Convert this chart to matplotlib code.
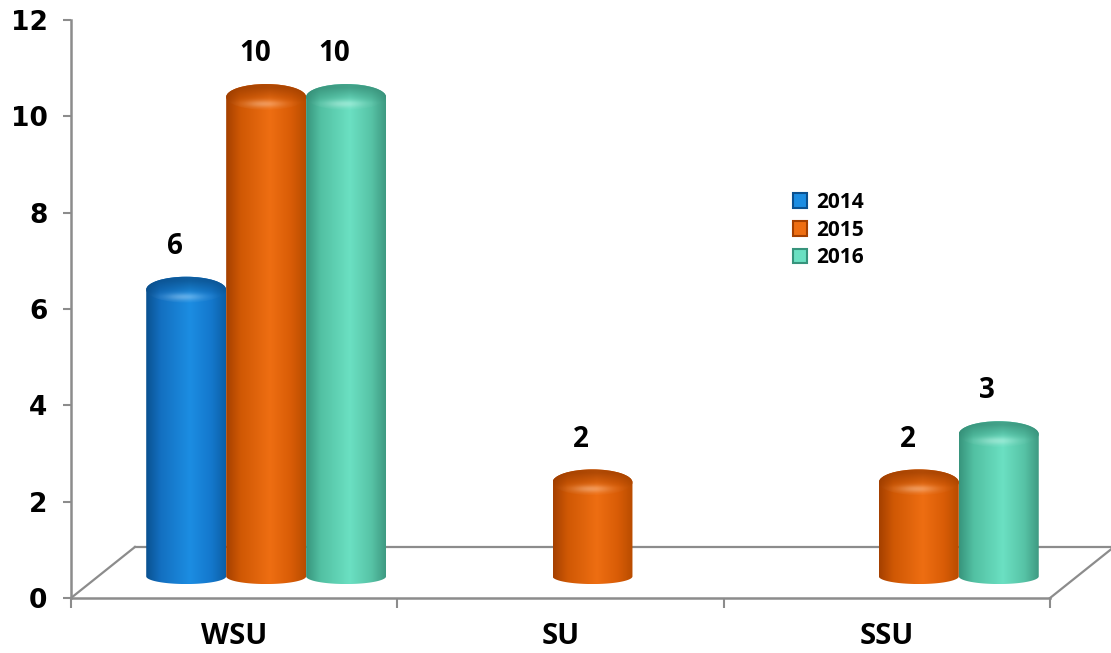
import numpy as np
import matplotlib.pyplot as plt
from matplotlib.path import Path
from matplotlib.patches import PathPatch, Ellipse, Patch
from matplotlib.colors import LinearSegmentedColormap, to_rgb

categories = ["WSU", "SU", "SSU"]
years = ["2014", "2015", "2016"]
vals_2014 = [6, 0, 0]
vals_2015 = [10, 2, 2]
vals_2016 = [10, 0, 3]

# dark edge, light middle, shade right for each series
shades = {
    "2014": ["#0a5190", "#136fc0", "#1c8de2", "#1478cc", "#0c5fa6"],
    "2015": ["#a44000", "#cf5804", "#ee6e12", "#d85c06", "#b84c00"],
    "2016": ["#37947c", "#52c0a2", "#6be0c2", "#57c3a6", "#3e9a82"],
}

GRAY = "#8c8c8c"
BAR_W = 0.245
DEPTH_X = 0.196   # floor depth in category units
DEPTH_Y = 1.06    # floor depth in value units
BASE_Y = 0.45     # bar base sits half way back on the floor
EB = 0.16         # bottom ellipse half height
ET = 0.27         # top ellipse half height


def draw_cylinder(ax, xc, value, colors):
    yb = BASE_Y
    yt = BASE_Y + value - 0.05
    t = np.linspace(0, np.pi, 80)
    bottom = np.column_stack([xc - BAR_W / 2 * np.cos(t), yb - EB * np.sin(t)])
    top = np.column_stack([xc + BAR_W / 2 * np.cos(t), yt + ET * np.sin(t)])
    verts = np.vstack([bottom, top, bottom[:1]])
    codes = [Path.MOVETO] + [Path.LINETO] * (len(verts) - 2) + [Path.CLOSEPOLY]
    body = PathPatch(Path(verts, codes), fc="none", ec="none")
    ax.add_patch(body)

    cmap = LinearSegmentedColormap.from_list(
        "c", list(zip([0, 0.18, 0.55, 0.82, 1], colors)))
    grad = np.linspace(0, 1, 256).reshape(1, -1)
    im = ax.imshow(grad, cmap=cmap, aspect="auto", origin="lower",
                   extent=(xc - BAR_W / 2, xc + BAR_W / 2, yb - EB, yt + ET),
                   zorder=3, interpolation="bilinear")
    im.set_clip_path(body)

    # cap: darker towards the back, soft bright rim at the front
    n = 140
    u, v = np.meshgrid(np.linspace(-1, 1, n), np.linspace(-1, 1, n))
    base = np.array([to_rgb(c) for c in colors])
    side = cmap((u + 1) / 2)[..., :3]
    dark = base[0] * 0.92
    k = np.clip((v + 0.45) / 1.1, 0, 1)[..., None] * 0.7
    img = side * (1 - k) + dark * k
    glow = np.exp(-((u + 0.05) / 0.5) ** 2 - ((v + 0.55) / 0.28) ** 2)[..., None]
    img = img * (1 - 0.3 * glow) + 0.3 * glow * np.ones(3)
    img = np.clip(img, 0, 1)
    cap = Ellipse((xc, yt), BAR_W, 2 * ET, fc="none", ec="none")
    ax.add_patch(cap)
    im2 = ax.imshow(img, aspect="auto", origin="lower",
                    extent=(xc - BAR_W / 2, xc + BAR_W / 2, yt - ET, yt + ET),
                    zorder=4, interpolation="bilinear")
    im2.set_clip_path(cap)


fig = plt.figure(figsize=(11.11, 6.53), dpi=100)
ax = fig.add_axes([0.0639, 0.0842, 0.8812, 0.8852])

# floor outline
fl = dict(color=GRAY, lw=1.6, zorder=1, clip_on=False)
ax.plot([-0.5, -0.5 + DEPTH_X], [0, DEPTH_Y], **fl)
ax.plot([2.5, 2.5 + DEPTH_X], [0, DEPTH_Y], **fl)
ax.plot([-0.5 + DEPTH_X, 2.5 + DEPTH_X], [DEPTH_Y, DEPTH_Y], **fl)

series = [vals_2014, vals_2015, vals_2016]
x = np.arange(len(categories))
for i, (yr, vals) in enumerate(zip(years, series)):
    for j, val in enumerate(vals):
        if val <= 0:
            continue
        xc = x[j] + (i - 1) * BAR_W + DEPTH_X / 2
        draw_cylinder(ax, xc, val, shades[yr])
        ax.text(xc - 0.035, val + 1.3, str(val), ha="center", va="center",
                fontsize=20, fontweight="bold", family="Open Sans", zorder=5)

ax.set_xlim(-0.5, 2.5)
ax.set_ylim(0, 12)

for s in ["top", "right"]:
    ax.spines[s].set_visible(False)
for s in ["left", "bottom"]:
    ax.spines[s].set_color(GRAY)
    ax.spines[s].set_linewidth(1.8)

ax.set_yticks(range(0, 13, 2))
ax.tick_params(axis="y", direction="out", length=6, width=1.5, color=GRAY,
               pad=11, labelsize=19)
for lab in ax.get_yticklabels():
    lab.set_fontweight("bold")

ax.set_xticks(x)
ax.set_xticklabels(categories, fontsize=21, fontweight="bold", family="Open Sans")
ax.set_xticks([-0.5, 0.5, 1.5, 2.5], minor=True)
ax.tick_params(axis="x", which="major", length=0, pad=17)
ax.tick_params(axis="x", which="minor", direction="out", length=7, width=1.5,
               color=GRAY)

handles = [Patch(facecolor=shades[yr][2], edgecolor=shades[yr][0], lw=1.5)
           for yr in years]
leg = ax.legend(handles, years, loc="upper left", bbox_to_anchor=(0.718, 0.735),
                frameon=False, handlelength=0.7, handleheight=0.7,
                handletextpad=0.45, labelspacing=0.32,
                prop={"family": "Open Sans", "weight": "bold", "size": 15})

fig.savefig("out.png", dpi=100)
